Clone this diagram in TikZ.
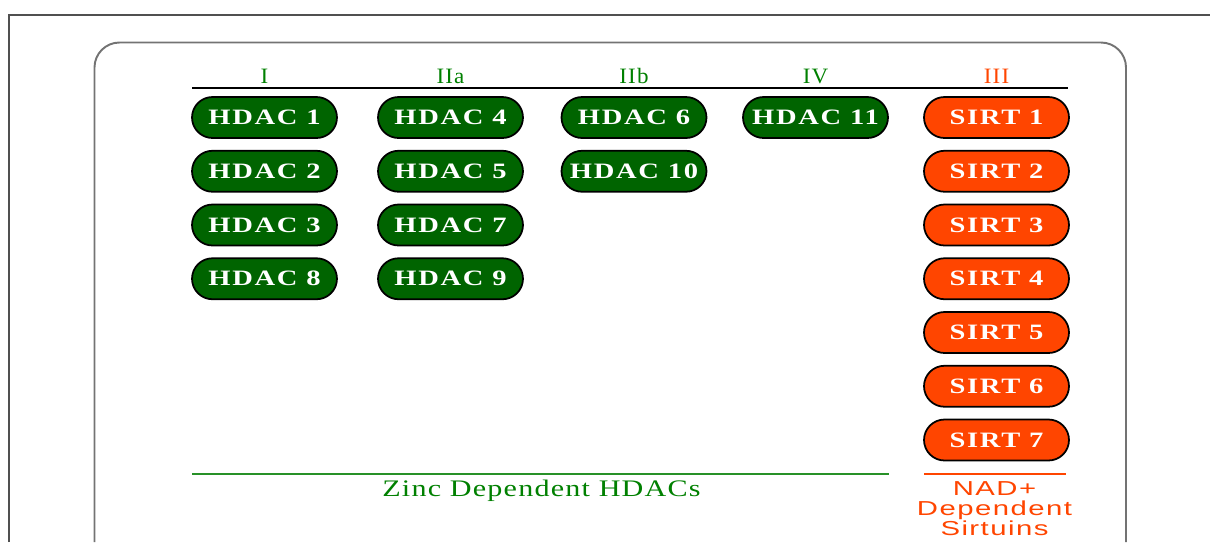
\documentclass[tikz,border=0pt]{standalone}
\usepackage{fontspec}
\setmainfont{Liberation Serif}
\newfontfamily\pillfont[LetterSpace=6]{Liberation Serif}
\newfontfamily\classfont[LetterSpace=5]{Liberation Serif}
\newfontfamily\zincfont[LetterSpace=4]{Liberation Serif}
\newfontfamily\sirtfont[LetterSpace=5]{Liberation Sans}
\usepackage{graphicx}
\usepackage{xcolor}
\usetikzlibrary{calc}
\definecolor{hdacgreen}{RGB}{0,100,0}
\definecolor{labelgreen}{RGB}{0,128,0}
\definecolor{zincgreen}{RGB}{40,145,40}
\definecolor{sirtorange}{RGB}{255,69,0}
\definecolor{framegray}{RGB}{80,80,80}
\definecolor{panelgray}{RGB}{115,115,115}

\begin{document}
\begin{tikzpicture}[x=0.02cm,y=-0.02cm,
    pill/.style={draw=black,line width=1pt,text=white,rounded corners=0.41cm,
        minimum width=2.9cm,minimum height=0.82cm,inner sep=0pt,
        font=\pillfont\bfseries\fontsize{12.5}{14}\selectfont},
    hdacpill/.style={pill,fill=hdacgreen},
    sirtpill/.style={pill,fill=sirtorange},
    classlabel/.style={inner sep=0pt,font=\classfont\fontsize{12.5}{14}\selectfont}]
        \newcommand{\hdaccoli}{264.5}
        \newcommand{\hdaccoliia}{450.5}
        \newcommand{\hdaccoliib}{634}
        \newcommand{\hdaccoliv}{815.5}
        \newcommand{\sirtcol}{996.5}
        \newcommand{\pillrowa}{117.5}
        \newcommand{\pillrowb}{171.25}
        \newcommand{\pillrowc}{225}
        \newcommand{\pillrowd}{278.75}
        \newcommand{\pillrowe}{332.5}
        \newcommand{\pillrowf}{386.25}
        \newcommand{\pillrowg}{440}
        \newcommand{\pillwide}[1]{\scalebox{1.3}[1]{#1}}
        \useasboundingbox (0,0) rectangle (1210,542);
        % frame and panel
        \draw[framegray,line width=0.6pt] (9,542) -- (9,15) -- (1210,15);
        \draw[panelgray,line width=1.1pt,rounded corners=0.5cm] (94.5,542) -- (94.5,42.5) -- (1126,42.5) -- (1126,542);
        % class headings
        \node[classlabel,text=labelgreen] (clsi) at (\hdaccoli,76) {\scalebox{1.05}[1]{I}};
        \node[classlabel,text=labelgreen] (clsiia) at (\hdaccoliia,76) {\scalebox{1.05}[1]{IIa}};
        \node[classlabel,text=labelgreen] (clsiib) at (\hdaccoliib,76) {\scalebox{1.05}[1]{IIb}};
        \node[classlabel,text=labelgreen] (clsiv) at (\hdaccoliv,76) {\scalebox{1.05}[1]{IV}};
        \node[classlabel,text=sirtorange] (clsiii) at (\sirtcol,76) {\scalebox{1.05}[1]{III}};
        \coordinate (headl) at (192,88);
        \coordinate (headr) at (1068,88);
        \draw[line width=1.1pt] (headl) -- (headr);
        % class I
        \node[hdacpill] (hdac1) at (\hdaccoli,\pillrowa) {\pillwide{HDAC 1}};
        \node[hdacpill] (hdac2) at (\hdaccoli,\pillrowb) {\pillwide{HDAC 2}};
        \node[hdacpill] (hdac3) at (\hdaccoli,\pillrowc) {\pillwide{HDAC 3}};
        \node[hdacpill] (hdac8) at (\hdaccoli,\pillrowd) {\pillwide{HDAC 8}};
        % class IIa
        \node[hdacpill] (hdac4) at (\hdaccoliia,\pillrowa) {\pillwide{HDAC 4}};
        \node[hdacpill] (hdac5) at (\hdaccoliia,\pillrowb) {\pillwide{HDAC 5}};
        \node[hdacpill] (hdac7) at (\hdaccoliia,\pillrowc) {\pillwide{HDAC 7}};
        \node[hdacpill] (hdac9) at (\hdaccoliia,\pillrowd) {\pillwide{HDAC 9}};
        % class IIb and IV
        \node[hdacpill] (hdac6) at (\hdaccoliib,\pillrowa) {\pillwide{HDAC 6}};
        \node[hdacpill] (hdac10) at (\hdaccoliib,\pillrowb) {\pillwide{HDAC 10}};
        \node[hdacpill] (hdac11) at (\hdaccoliv,\pillrowa) {\pillwide{HDAC 11}};
        % class III
        \node[sirtpill] (sirt1) at (\sirtcol,\pillrowa) {\pillwide{SIRT 1}};
        \node[sirtpill] (sirt2) at (\sirtcol,\pillrowb) {\pillwide{SIRT 2}};
        \node[sirtpill] (sirt3) at (\sirtcol,\pillrowc) {\pillwide{SIRT 3}};
        \node[sirtpill] (sirt4) at (\sirtcol,\pillrowd) {\pillwide{SIRT 4}};
        \node[sirtpill] (sirt5) at (\sirtcol,\pillrowe) {\pillwide{SIRT 5}};
        \node[sirtpill] (sirt6) at (\sirtcol,\pillrowf) {\pillwide{SIRT 6}};
        \node[sirtpill] (sirt7) at (\sirtcol,\pillrowg) {\pillwide{SIRT 7}};
        % family footers
        \coordinate (zincl) at (192,474);
        \coordinate (zincr) at (889,474);
        \draw[zincgreen,line width=0.9pt] (zincl) -- (zincr);
        \node[inner sep=0pt,text=labelgreen,font=\zincfont\fontsize{13.5}{15}\selectfont] (zinclabel) at (541.5,491) {\scalebox{1.27}[1]{Zinc Dependent HDACs}};
        \coordinate (nadl) at (924,474);
        \coordinate (nadr) at (1066,474);
        \draw[sirtorange,line width=0.8pt] (nadl) -- (nadr);
        \node[inner sep=0pt,text=sirtorange,font=\sirtfont\fontsize{11.5}{10.6}\selectfont] (nadlabel) at (994.5,511.5) {\scalebox{1.45}[1]{\begin{tabular}{@{}c@{}}NAD+\\Dependent\\Sirtuins\end{tabular}}};
    \end{tikzpicture}
\end{document}
